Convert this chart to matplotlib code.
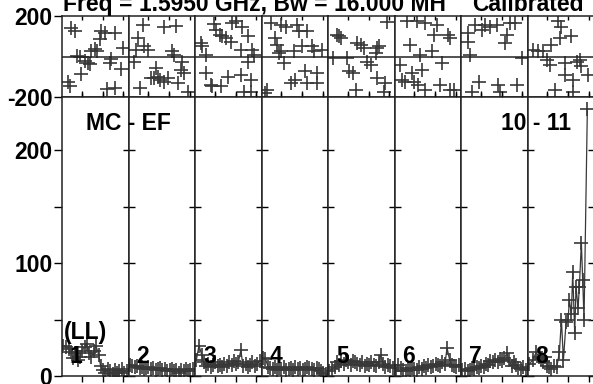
import numpy as np
import matplotlib.pyplot as plt

plt.rcParams['font.family'] = ['Liberation Sans', 'DejaVu Sans']
plt.rcParams['font.weight'] = 'bold'
plt.rcParams['axes.unicode_minus'] = False

# phase data: time fraction inside each scan, phase in degrees
ph_t = [
    [.09, .12, .14, .19, .22, .27, .29, .34, .39, .42, .44, .49, .52, .57, .59, .64, .67, .72, .74, .79, .79, .89, .92],
    [.09, .12, .15, .17, .22, .24, .29, .34, .39, .42, .44, .47, .54, .54, .59, .66, .69, .71, .74, .79, .81, .84, .89],
    [.09, .11, .16, .16, .24, .26, .29, .32, .37, .39, .41, .46, .49, .54, .56, .61, .69, .69, .71, .74, .79, .79, .84, .84, .86, .89],
    [.06, .09, .14, .21, .24, .27, .29, .29, .34, .37, .44, .49, .51, .54, .57, .61, .66, .69, .69, .76, .79, .84, .84, .91],
    [.07, .14, .17, .19, .29, .32, .37, .42, .44, .49, .54, .59, .64, .72, .74, .74, .76, .84, .86, .89],
    [.09, .11, .16, .19, .24, .26, .29, .34, .36, .39, .41, .46, .46, .56, .59, .64, .69, .71, .81, .84, .84, .89],
    [.11, .11, .14, .16, .21, .27, .31, .36, .44, .54, .56, .59, .66, .69, .74, .81, .84, .91],
    [.09, .16, .24, .29, .34, .36, .41, .46, .49, .51, .56, .56, .66, .69, .69, .74, .79, .81, .91],
]
ph_v = [
    [-128, -148, 143, 126, 3, 0, -87, -21, -30, -38, 28, 36, 28, 85, 126, 118, -161, -30, -13, 118, -157, -62, 44],
    [-25, 33, 91, -157, 157, 50, 33, -107, -107, -58, -99, -115, 144, -124, -107, 25, 8, 153, -132, -66, -25, -82, -173],
    [66, 50, 8, -82, -140, -148, 160, 132, 107, -148, 99, 91, -99, 74, 165, 173, 33, -91, 148, -173, 99, -25, -115, -173, 33, 8],
    [-181, -165, 165, 91, 58, 16, 157, 25, -33, 148, -132, 25, -115, 157, 124, 50, -74, 124, -132, 50, 25, -82, -132, 33],
    [-8, 107, 99, 91, -8, -74, -82, -165, 66, 58, 41, -25, -41, 17, 41, -107, 50, -173, -132, 170],
    [-41, -115, -124, 173, 58, -82, -124, 173, -140, 8, -66, 165, -165, 25, 107, 157, -140, -33, 107, 91, -165, -165],
    [116, 74, 8, -173, 157, -124, 132, 157, 148, 157, -140, -173, 66, 107, 165, 165, -140, -8],
    [33, 25, 25, -16, -41, 58, -165, 173, 91, 148, -33, -91, 99, -115, -173, -25, -16, -49, -91],
]

# amplitude data
amp_t = [.02, .06, .1, .13, .17, .2, .24, .27, .3, .34, .37, .41, .44, .48,
         .51, .55, .58, .62, .65, .69, .72, .76, .79, .83, .86, .9, .93, .97]
amp_v = [
    [27, 26, 24, 21, 16, 20, 14, 17, 22, 26, 28, 20, 17, 22, 27, 19, 9, 5, 3, 6, 4, 2, 5, 3, 4, 6, 3, 4],
    [10, 9, 8, 9, 7, 8, 6, 7, 8, 6, 7, 5, 6, 7, 5, 6, 4, 5, 6, 4, 5, 3, 5, 4, 6, 4, 5, 6],
    [14, 27, 19, 12, 9, 11, 8, 10, 12, 9, 10, 8, 11, 9, 12, 10, 13, 11, 12, 23, 9, 11, 8, 10, 12, 9, 11, 13],
    [16, 15, 8, 7, 6, 8, 5, 7, 6, 8, 5, 6, 7, 5, 8, 6, 7, 5, 6, 8, 7, 6, 5, 7, 6, 4, 3, 2],
    [4, 6, 8, 12, 10, 13, 11, 14, 12, 10, 13, 12, 11, 10, 12, 9, 11, 10, 12, 10, 9, 12, 19, 11, 8, 10, 9, 7],
    [4, 10, 7, 5, 4, 6, 5, 7, 6, 5, 8, 6, 9, 7, 10, 8, 9, 11, 10, 9, 12, 11, 25, 14, 10, 9, 8, 10],
    [5, 6, 4, 5, 7, 6, 8, 7, 9, 8, 11, 10, 13, 12, 14, 12, 15, 13, 16, 20, 14, 9, 12, 10, 7, 6, 8, 5],
]
amp8_t = [.03, .08, .13, .17, .2, .23, .27, .3, .33, .36, .4, .44, .48, .51,
          .54, .58, .61, .63, .66, .68, .71, .73, .76, .78, .81, .83, .85, .9]
amp8_v = [11, 14, 21, 17, 15, 12, 17, 9, 8, 6, 9, 8, 21, 50,
          14, 48, 50, 67, 55, 92, 38, 79, 60, 79, 118, 85, 50, 236]

scan_labels = ['1', '2', '3', '4', '5', '6', '7', '8']

fig = plt.figure(figsize=(5.93, 3.84), dpi=100)
gs = fig.add_gridspec(2, 8, height_ratios=[81, 279], left=62 / 593, right=594 / 593,
                      top=1 - 16 / 384, bottom=1 - 376 / 384, wspace=0, hspace=0)

mk = dict(marker='+', ms=9.5, mew=1.2, color='#383838')
fs = 16.5

for i in range(8):
    axp = fig.add_subplot(gs[0, i])
    axa = fig.add_subplot(gs[1, i])
    for ax in (axp, axa):
        ax.set_xlim(0, 1)
        ax.set_xticks([0.3, 0.61, 0.92])
        for s in ax.spines.values():
            s.set_linewidth(1.1)
            s.set_color('#222222')
    # phase
    axp.plot(ph_t[i], ph_v[i], ls='none', **mk)
    axp.axhline(0, color='#222222', lw=1.1)
    axp.set_ylim(-200, 200)
    axp.tick_params(axis='x', direction='in', top=True, bottom=True, length=3,
                    width=1, labelbottom=False)
    # amplitude
    if i < 7:
        axa.plot(amp_t, amp_v[i], lw=0.9, **mk)
    else:
        axa.plot(amp8_t, amp8_v, lw=0.9, **mk)
    axa.set_ylim(0, 247)
    axa.set_yticks([0, 100, 200])
    axa.set_yticks([50, 150], minor=True)
    axa.tick_params(axis='x', direction='out', top=True, bottom=True, length=4,
                    width=1, labelbottom=False)
    axa.text(0.12, 0.07, scan_labels[i], transform=axa.transAxes,
             fontsize=fs, fontweight='bold', ha='left', va='center')
    if i == 0:
        axp.set_yticks([-200, 200])
        axp.tick_params(axis='y', direction='out', length=6, width=1, pad=1,
                        labelsize=fs)
        axa.tick_params(axis='y', which='both', direction='out', length=6,
                        width=1, pad=1, labelsize=fs)
        axa.text(0.03, 0.155, '(LL)', transform=axa.transAxes,
                 fontsize=fs, fontweight='bold', ha='left', va='center')
    else:
        axp.set_yticks([])
        axa.tick_params(axis='y', which='both', direction='inout', length=8,
                        width=1, labelleft=False, right=(i == 7))

fig.text(86 / 593, 1 - 123 / 384, 'MC - EF', fontsize=fs, fontweight='bold',
         ha='left', va='center')
fig.text(501 / 593, 1 - 123 / 384, '10 - 11', fontsize=fs, fontweight='bold',
         ha='left', va='center')
fig.text(63 / 593, 1 - 11 / 384, 'Freq = 1.5950 GHz, Bw = 16.000 MH',
         fontsize=fs, fontweight='bold', ha='left', va='baseline')
fig.text(472 / 593, 1 - 11 / 384, 'Calibrated',
         fontsize=fs, fontweight='bold', ha='left', va='baseline')

fig.savefig('out.png', dpi=100)
